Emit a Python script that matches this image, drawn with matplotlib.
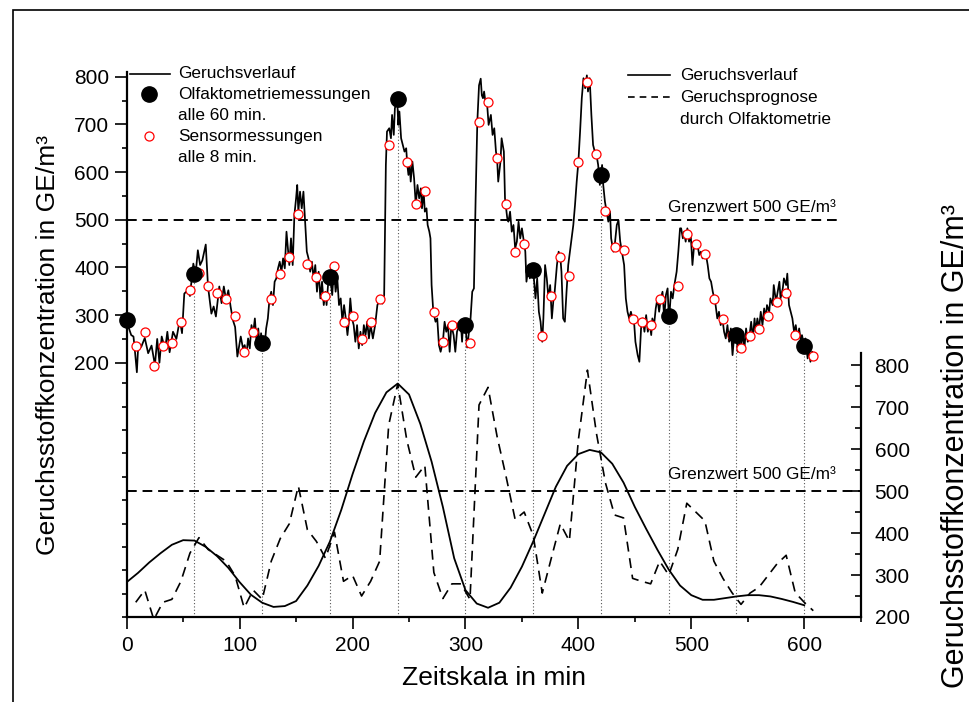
import numpy as np
import matplotlib
matplotlib.use('Agg')
import matplotlib.pyplot as plt
from matplotlib.lines import Line2D
from matplotlib.patches import Rectangle
from matplotlib.ticker import FixedLocator, MultipleLocator

plt.rcParams['font.family'] = ['Liberation Sans', 'DejaVu Sans']

# Geruchsverlauf (continuous record), minutes / GE/m3
verlauf_t = [0, 2, 4, 6, 7, 9, 10, 13, 16, 19, 22, 25, 27, 29, 31, 34, 36, 38, 41, 44,
             47, 49, 51, 54, 56, 59, 61, 63, 65, 67, 70, 72, 75, 77, 79, 82, 84, 86, 88, 90,
             92, 94, 96, 98, 101, 103, 104.5, 106, 107.5, 109, 110.5, 112, 113.5, 115, 116.5, 118, 119, 120, 122, 123.5,
             125, 126.5, 128, 129.5, 131, 132.5, 134, 135.5, 137, 138.5, 140, 141.5, 143, 144, 145.5, 147, 148.5, 150, 151, 152,
             153.5, 155, 156.5, 158, 159.5, 161, 162.5, 164, 165.5, 167, 168.5, 170, 171.5, 173, 174.5, 176, 177, 178.5, 180, 182,
             183.5, 185, 186.5, 188, 189.5, 191, 192.5, 194, 195.5, 197, 198, 199.5, 201, 202.5, 204, 205.5, 207, 208.5, 210, 211.5,
             213, 214.5, 216, 218, 220, 222, 224.5, 226.5, 228, 229.5, 230.5, 232.5, 234, 235, 236.5, 237.5, 239.5, 240.5, 241.5, 243,
             244.5, 246, 247.5, 248.5, 249.5, 250.5, 251.5, 253, 254.5, 256, 257.5, 259, 260.5, 261.5, 263, 264, 265.5, 266.5, 268, 269,
             270, 271.5, 273.5, 275, 276.5, 278, 280, 281.5, 283, 284.5, 286, 287.5, 289.5, 291, 292.5, 294.5, 296, 297, 298, 299,
             300, 301.5, 303, 304.5, 306, 307.5, 309, 310.5, 312, 313.5, 314.5, 315.5, 316.5, 318, 319, 320.5, 322.5, 324, 325.5, 327,
             328, 329, 331, 332, 334, 335, 337, 338, 339.5, 341, 342.5, 344, 345.5, 347, 348.5, 350, 352, 353, 354, 356,
             357, 359, 360, 362, 363.5, 365, 366.5, 368, 369, 370.5, 372, 373.5, 375, 376.5, 378, 379, 381, 382.5, 384, 385,
             386.5, 388, 389.5, 391, 392.5, 394, 395.5, 397, 398.5, 400, 401.5, 403, 404.5, 406, 407.5, 408.5, 410, 411.5, 413, 414.5,
             416, 417.5, 419, 420, 421, 422, 423.5, 425, 426.5, 428, 429, 431, 432, 434, 435.5, 437, 438.5, 440.5, 442, 443.5,
             445, 446.5, 448, 449.5, 450.5, 452.5, 454, 455.5, 457, 458.5, 460, 461.5, 463, 464.5, 465.5, 467, 468.5, 470, 471.5, 473,
             474.5, 476, 477.5, 479, 480, 481, 482, 483.5, 485, 487, 488.5, 490, 491, 492.5, 493.5, 495, 496.5, 498, 499.5, 501,
             502.5, 504, 505.5, 507, 508.5, 510, 511.5, 513, 514.5, 516, 517.5, 519, 520.5, 521.5, 523, 524.5, 526, 527.5, 529, 530.5,
             532, 533.5, 535, 536.5, 538, 540, 541, 542.5, 544, 545.5, 547, 548.5, 550, 551.5, 553, 554.5, 556, 557, 558.5, 560,
             561.5, 563, 564.5, 566, 567, 569, 570, 572, 573, 575, 576, 578, 579, 581, 582, 584, 585, 586.5, 588, 589.5,
             591, 592.5, 594, 595.5, 597, 598, 600, 601, 603, 604, 605.5, 607]
verlauf_v = [290, 272, 258, 255, 232, 180, 227, 234, 252, 220, 236, 195, 250, 200, 255, 228, 265, 222, 265, 250,
             290, 262, 345, 352, 340, 408, 385, 436, 405, 415, 448, 360, 303, 318, 297, 360, 325, 360, 332, 352,
             318, 290, 275, 213, 255, 230, 237, 216, 251, 230, 279, 262, 293, 244, 272, 230, 262, 243, 230, 272,
             293, 335, 349, 321, 370, 377, 398, 412, 391, 419, 398, 475, 433, 405, 461, 405, 510, 545, 573, 517,
             559, 524, 559, 496, 433, 419, 391, 412, 377, 405, 349, 391, 335, 370, 321, 349, 321, 370, 384, 342,
             398, 349, 377, 321, 335, 286, 321, 293, 258, 293, 335, 293, 279, 244, 279, 230, 265, 237, 279, 258,
             286, 251, 279, 251, 279, 321, 335, 324, 342, 615, 685, 692, 671, 720, 678, 734, 755, 699, 727, 671,
             657, 643, 650, 615, 594, 622, 580, 622, 587, 531, 573, 545, 566, 524, 559, 517, 524, 489, 475, 461,
             363, 307, 286, 293, 237, 223, 244, 286, 265, 279, 223, 279, 258, 223, 265, 279, 279, 244, 286, 265,
             278, 232, 262, 293, 349, 356, 545, 706, 782, 796, 761, 755, 769, 741, 748, 699, 720, 678, 692, 643,
             629, 580, 622, 671, 643, 545, 503, 496, 517, 475, 489, 440, 454, 496, 461, 482, 450, 433, 370, 405,
             377, 391, 394, 335, 377, 307, 286, 244, 293, 405, 377, 335, 363, 293, 335, 349, 405, 433, 422, 391,
             293, 286, 349, 405, 433, 461, 489, 531, 580, 622, 685, 755, 797, 776, 803, 769, 797, 720, 657, 643,
             637, 615, 573, 594, 615, 573, 538, 517, 496, 517, 461, 433, 443, 489, 499, 455, 433, 405, 335, 307,
             293, 307, 292, 279, 244, 216, 202, 272, 293, 265, 300, 265, 286, 258, 293, 279, 314, 335, 307, 335,
             349, 293, 342, 356, 300, 314, 349, 335, 363, 391, 433, 482, 482, 461, 475, 454, 482, 454, 468, 405,
             447, 450, 447, 426, 433, 419, 433, 426, 405, 377, 370, 349, 333, 321, 293, 307, 279, 293, 265, 251,
             279, 244, 272, 216, 258, 262, 223, 244, 230, 265, 230, 272, 244, 257, 286, 251, 293, 265, 293, 272,
             307, 279, 314, 293, 321, 307, 335, 321, 363, 328, 342, 370, 335, 356, 377, 363, 387, 321, 307, 293,
             265, 279, 251, 272, 244, 258, 235, 251, 209, 230, 202, 223]

# Olfaktometriemessungen alle 60 min
olf_t = [0, 60, 120, 180, 240, 300, 360, 420, 480, 540, 600]
olf_v = [290, 386, 242, 379, 754, 279, 394, 594, 298, 258, 235]

# Sensormessungen alle 8 min
sens_t = list(range(8, 609, 8))
sens_v = [235, 264, 194, 235, 242, 285, 352, 389, 361, 347, 333, 298, 222, 264, 242,
          333, 387, 422, 512, 408, 380, 340, 402, 285, 299, 250, 285, 333, 657, 755,
          622, 533, 561, 306, 244, 279, 279, 242, 705, 747, 630, 534, 432, 450, 394,
          257, 340, 422, 381, 622, 788, 637, 519, 443, 436, 292, 285, 279, 333, 300,
          361, 471, 450, 429, 333, 292, 258, 230, 257, 271, 299, 327, 347, 258, 235, 215]

# unteres Diagramm: geglaetteter Verlauf
glatt_t = list(range(0, 601, 10))
glatt_v = [283, 305, 330, 352, 372, 383, 382, 367, 345, 317, 283, 253, 234, 224, 226, 238,
           275, 322, 380, 455, 540, 618, 686, 735, 756, 730, 660, 570, 462, 340, 264, 232,
           222, 234, 270, 320, 380, 445, 510, 560, 588, 598, 592, 565, 520, 462, 410, 360,
           313, 275, 252, 241, 241, 245, 249, 252, 252, 249, 243, 236, 228]

grenzwert = 500
x_ticks = [0, 100, 200, 300, 400, 500, 600]
y_ticks = [200, 300, 400, 500, 600, 700, 800]

W, H = 970, 702
def fx(px):
    return px / W
def fy(py):
    return 1 - py / H

fig = plt.figure(figsize=(9.7, 7.02), dpi=100)

left, right = 126.7, 860.7
ax1 = fig.add_axes([fx(left), fy(617), fx(right) - fx(left), fy(72) - fy(617)])
ax2 = fig.add_axes([fx(left), fy(617), fx(right) - fx(left), fy(353) - fy(617)])
ax2.set_facecolor('none')

# oberes Diagramm
y_bot = 200 - (617 - 362.7) / 0.4767
ax1.set_xlim(0, 650)
ax1.set_ylim(y_bot, 810)
ax1.plot(verlauf_t, verlauf_v, color='black', lw=1.25, zorder=3)
ax1.vlines(olf_t[1:], y_bot, olf_v[1:], colors='#555555', lw=0.8, linestyles=(0, (1, 2)), zorder=1)
ax1.hlines(grenzwert, 0, 633, colors='black', lw=1.4, linestyles=(0, (5, 3)), zorder=2)
ax1.text(628, grenzwert + 11, 'Grenzwert 500 GE/m³', ha='right', va='bottom', fontsize=12.4)
ax1.plot(sens_t, sens_v, 'o', ms=6.5, mfc='white', mec='red', mew=0.9, zorder=4, clip_on=False)
ax1.plot(olf_t, olf_v, 'o', ms=11, color='black', zorder=5, clip_on=False)

for s in ['top', 'right', 'bottom']:
    ax1.spines[s].set_visible(False)
ax1.spines['left'].set_linewidth(1.6)
ax1.set_xticks([])
ax1.yaxis.set_major_locator(FixedLocator(y_ticks))
lower = list(np.linspace(y_bot, 200 - 20.6 / 0.4767, 11))
ax1.yaxis.set_minor_locator(FixedLocator([250, 350, 450, 550, 650, 750] + lower))
ax1.tick_params(axis='y', which='major', direction='out', length=8.5, width=1.2, labelsize=15, pad=4)
ax1.tick_params(axis='y', which='minor', direction='out', length=3.5, width=1.2)
ax1.set_ylabel('Geruchsstoffkonzentration in GE/m³', fontsize=19)
ax1.yaxis.label.set_position((0, (fy(345) - fy(617)) / (fy(72) - fy(617))))
ax1.yaxis.labelpad = 10

# unteres Diagramm
ax2.set_xlim(0, 650)
ax2.set_ylim(200, 200 + (616.7 - 353) / 0.4194)
ax2.plot(glatt_t, glatt_v, color='black', lw=1.3)
ax2.plot(sens_t, sens_v, color='black', lw=1.2, linestyle=(0, (6, 4)))
ax2.hlines(grenzwert, 0, 650, colors='black', lw=1.4, linestyles=(0, (5, 3)))
ax2.text(628, grenzwert + 21, 'Grenzwert 500 GE/m³', ha='right', va='bottom', fontsize=12.4)

ax2.spines['left'].set_visible(False)
ax2.spines['top'].set_visible(False)
ax2.spines['right'].set_linewidth(1.6)
ax2.spines['bottom'].set_linewidth(1.6)
ax2.yaxis.tick_right()
ax2.yaxis.set_major_locator(FixedLocator(y_ticks))
ax2.yaxis.set_minor_locator(FixedLocator([250, 350, 450, 550, 650, 750]))
ax2.tick_params(axis='y', which='major', direction='in', length=7, width=1.2, labelsize=15, pad=10)
ax2.tick_params(axis='y', which='minor', direction='in', length=4, width=1.2)
ax2.xaxis.set_major_locator(FixedLocator(x_ticks))
ax2.xaxis.set_minor_locator(MultipleLocator(50))
ax2.tick_params(axis='x', which='major', direction='out', length=8.5, width=1.2, labelsize=15, pad=5)
ax2.tick_params(axis='x', which='minor', direction='out', length=3.5, width=1.2)
ax2.set_xlabel('Zeitskala in min', fontsize=19, labelpad=8)

fig.text(fx(956), fy(446), 'Geruchsstoffkonzentration in GE/m³', rotation=90,
         ha='center', va='center', fontsize=22)

# Legenden
fig.add_artist(Line2D([fx(130), fx(170)], [fy(73.5), fy(73.5)], color='black', lw=1.2))
fig.add_artist(Line2D([fx(149.3)], [fy(94.3)], marker='o', ms=11, color='black', lw=0))
fig.add_artist(Line2D([fx(149.3)], [fy(136)], marker='o', ms=6.5, mfc='white', mec='red', mew=0.9, lw=0))
fig.text(fx(178), fy(73.5), 'Geruchsverlauf', va='center', fontsize=12.4)
fig.text(fx(178), fy(94.3), 'Olfaktometriemessungen', va='center', fontsize=12.4)
fig.text(fx(178), fy(115.5), 'alle 60 min.', va='center', fontsize=12.4)
fig.text(fx(178), fy(136.5), 'Sensormessungen', va='center', fontsize=12.4)
fig.text(fx(178), fy(157.5), 'alle 8 min.', va='center', fontsize=12.4)

fig.add_artist(Line2D([fx(628), fx(670)], [fy(75), fy(75)], color='black', lw=1.2))
fig.add_artist(Line2D([fx(628), fx(670)], [fy(97), fy(97)], color='black', lw=1.2, linestyle=(0, (4, 3))))
fig.text(fx(680), fy(75), 'Geruchsverlauf', va='center', fontsize=12.4)
fig.text(fx(680), fy(97.3), 'Geruchsprognose', va='center', fontsize=12.4)
fig.text(fx(680), fy(120), 'durch Olfaktometrie', va='center', fontsize=12.4)

# Rahmen
fig.add_artist(Rectangle((fx(13), -0.1), 1.2, fy(10) + 0.1, fill=False, lw=1.2,
                         edgecolor='black', transform=fig.transFigure, clip_on=False))

fig.savefig('out.png', dpi=100)
